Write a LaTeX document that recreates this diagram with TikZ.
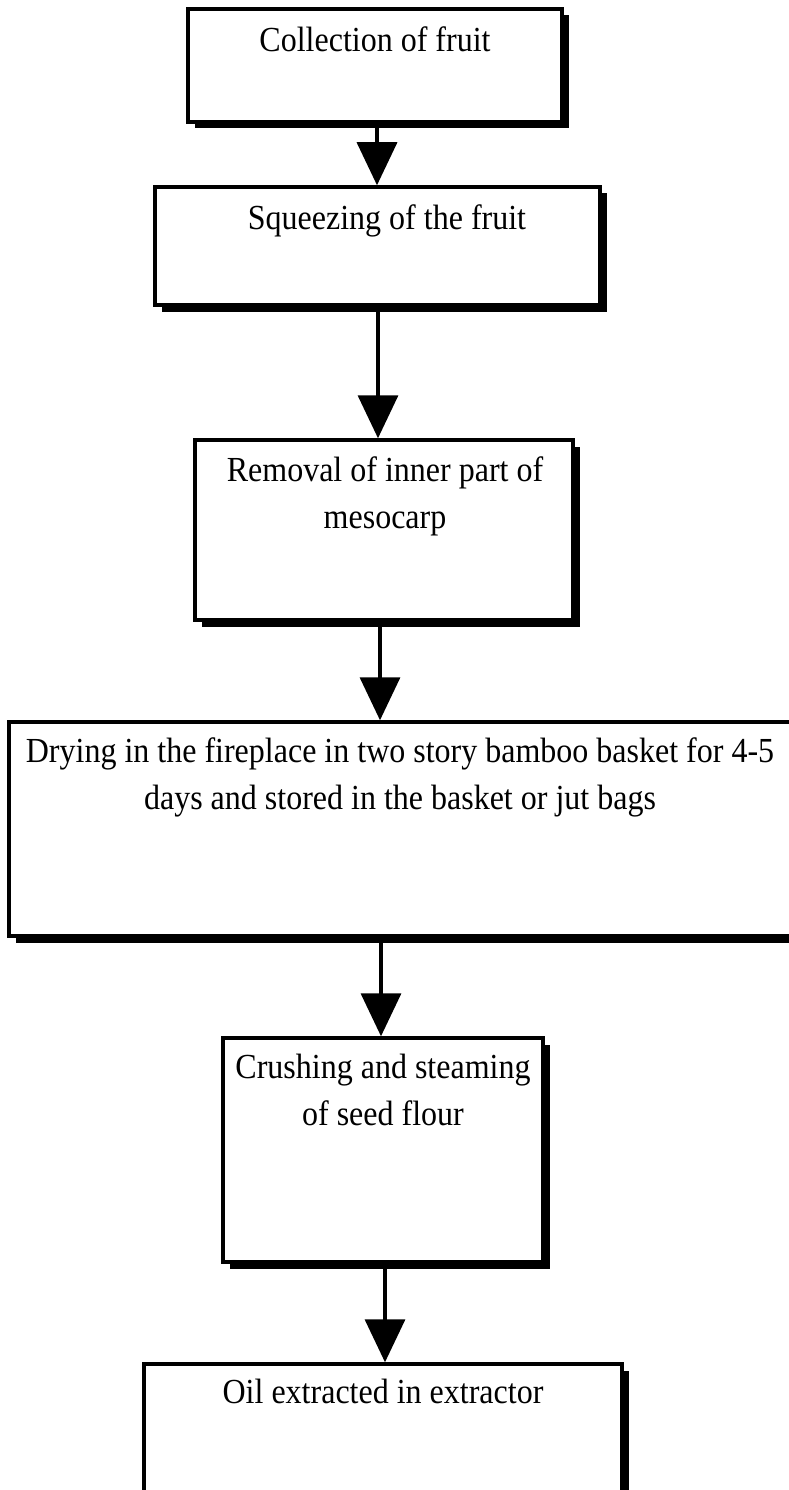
\documentclass[tikz,border=0pt]{standalone}
\usepackage{fontspec}
\usepackage{graphicx}
\setmainfont{Liberation Serif}
\usetikzlibrary{arrows.meta,shadows}
\newcommand\stretchline[1]{\scalebox{1}[1.1]{#1}}
\begin{document}
\begin{tikzpicture}[x=1pt,y=-1pt,
  stepbox/.style={draw=black, line width=3.5pt, fill=white, inner sep=0pt,
    drop shadow={shadow xshift=6.5pt, shadow yshift=-6.5pt, fill=black, opacity=1}},
  lbl/.style={inner sep=0pt, align=center, anchor=north, font=\fontsize{32}{47}\selectfont},
  flow/.style={line width=3.5pt, -{Triangle[width=40pt,length=43pt]}}]
\useasboundingbox (0,0) rectangle (789,1490);
\fill[white] (0,0) rectangle (789,1490);
\clip (0,0) rectangle (789,1490);

\node[stepbox, minimum width=374pt, minimum height=113pt] (b1) at (375,65.5) {};
\node[stepbox, minimum width=445pt, minimum height=118pt] (b2) at (377.5,246) {};
\node[stepbox, minimum width=378pt, minimum height=180pt] (b3) at (384,530) {};
\node[stepbox, minimum width=784pt, minimum height=214pt] (b4) at (401,829) {};
\node[stepbox, minimum width=320pt, minimum height=224pt] (b5) at (383,1150) {};
\node[stepbox, minimum width=478pt, minimum height=156pt] (b6) at (383,1442) {};

\node[lbl] (t1) at ([yshift=-19pt]b1.north) {\stretchline{Collection of fruit}};
\node[lbl] (t2) at ([xshift=9.5pt,yshift=-19pt]b2.north) {\stretchline{Squeezing of the fruit}};
\node[lbl] (t3) at ([xshift=1pt,yshift=-18pt]b3.north) {\stretchline{Removal of inner part of}\\\stretchline{mesocarp}};
\node[lbl] (t4) at ([xshift=-1pt,yshift=-17pt]b4.north) {\stretchline{Drying in the fireplace in two story bamboo basket for 4-5}\\\stretchline{days and stored in the basket or jut bags}};
\node[lbl] (t5) at ([yshift=-18pt]b5.north) {\stretchline{Crushing and steaming}\\\stretchline{of seed flour}};
\node[lbl] (t6) at ([yshift=-17pt]b6.north) {\stretchline{Oil extracted in extractor}};

\coordinate (a1s) at ([xshift=2pt]b1.south);
\coordinate (a1e) at (a1s |- b2.north);
\coordinate (a2s) at ([xshift=0.5pt]b2.south);
\coordinate (a2e) at (a2s |- b3.north);
\coordinate (a3s) at ([xshift=-4pt]b3.south);
\coordinate (a3e) at (a3s |- b4.north);
\coordinate (a4s) at ([xshift=-20pt]b4.south);
\coordinate (a4e) at (a4s |- b5.north);
\coordinate (a5s) at ([xshift=2pt]b5.south);
\coordinate (a5e) at (a5s |- b6.north);

\draw[flow] (a1s) -- (a1e);
\draw[flow] (a2s) -- (a2e);
\draw[flow] (a3s) -- (a3e);
\draw[flow] (a4s) -- (a4e);
\draw[flow] (a5s) -- (a5e);
\end{tikzpicture}
\end{document}
